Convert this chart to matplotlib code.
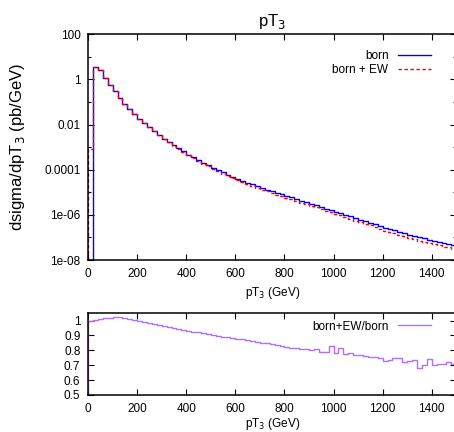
#!/usr/bin/env python3
import numpy as np
import matplotlib
matplotlib.use('Agg')
import matplotlib.pyplot as plt
from matplotlib.ticker import FixedLocator, FixedFormatter

plt.rcParams['font.family'] = ['Liberation Sans', 'DejaVu Sans']

# bin edges of the pT3 histogram (GeV)
bin_edges = np.arange(0, 1520, 20)

# born cross section per bin (pb/GeV), first bin empty
born = [0.0, 3.47, 2.51, 1.15, 0.537, 0.295, 0.148, 0.0832, 0.0501, 0.0288,
        0.0182, 0.0117, 7.76e-3, 5.13e-3, 3.47e-3, 2.40e-3, 1.70e-3, 1.23e-3, 8.91e-4, 6.61e-4,
        4.68e-4, 3.47e-4, 2.63e-4, 2.00e-4, 1.55e-4, 1.20e-4, 9.55e-5, 7.59e-5, 6.03e-5, 4.79e-5,
        3.89e-5, 3.24e-5, 2.69e-5, 2.24e-5, 1.86e-5, 1.55e-5, 1.32e-5, 1.12e-5, 9.55e-6, 8.13e-6,
        6.92e-6, 5.89e-6, 5.01e-6, 4.27e-6, 3.63e-6, 3.09e-6, 2.63e-6, 2.24e-6, 1.91e-6, 1.62e-6,
        1.38e-6, 1.17e-6, 1.00e-6, 8.51e-7, 7.24e-7, 6.17e-7, 5.25e-7, 4.47e-7, 3.80e-7, 3.24e-7,
        2.75e-7, 2.40e-7, 2.04e-7, 1.78e-7, 1.55e-7, 1.35e-7, 1.17e-7, 1.02e-7, 9.12e-8, 7.94e-8,
        7.08e-8, 6.31e-8, 5.62e-8, 5.01e-8, 4.47e-8]

# born + EW per bin (pb/GeV)
born_ew = [8.0e-4, 3.49, 2.54, 1.17, 0.548, 0.302, 0.152, 0.0849, 0.0507, 0.0289,
           0.0181, 0.0116, 7.63e-3, 5.01e-3, 3.36e-3, 2.31e-3, 1.63e-3, 1.17e-3, 8.41e-4, 6.20e-4,
           4.36e-4, 3.21e-4, 2.42e-4, 1.83e-4, 1.41e-4, 1.08e-4, 8.58e-5, 6.78e-5, 5.35e-5, 4.23e-5,
           3.42e-5, 2.83e-5, 2.33e-5, 1.93e-5, 1.60e-5, 1.32e-5, 1.12e-5, 9.43e-6, 7.96e-6, 6.72e-6,
           5.69e-6, 4.82e-6, 4.08e-6, 3.46e-6, 2.93e-6, 2.48e-6, 2.13e-6, 1.77e-6, 1.51e-6, 1.34e-6,
           1.08e-6, 9.51e-7, 7.73e-7, 6.68e-7, 5.57e-7, 4.74e-7, 4.00e-7, 3.39e-7, 2.87e-7, 2.41e-7,
           2.00e-7, 1.76e-7, 1.52e-7, 1.33e-7, 1.11e-7, 9.84e-8, 8.60e-8, 6.98e-8, 6.40e-8, 5.88e-8,
           4.96e-8, 4.45e-8, 3.96e-8, 3.60e-8, 3.17e-8]

# ratio born+EW/born per bin
ratio = [1.00, 1.005, 1.01, 1.015, 1.02, 1.025, 1.025, 1.02, 1.012, 1.005,
         0.997, 0.99, 0.983, 0.976, 0.969, 0.962, 0.956, 0.950, 0.944, 0.938,
         0.932, 0.926, 0.920, 0.914, 0.909, 0.904, 0.898, 0.893, 0.888, 0.883,
         0.878, 0.873, 0.868, 0.863, 0.858, 0.852, 0.847, 0.842, 0.834, 0.826,
         0.822, 0.818, 0.814, 0.810, 0.806, 0.802, 0.811, 0.789, 0.790, 0.829,
         0.785, 0.813, 0.773, 0.785, 0.770, 0.768, 0.762, 0.758, 0.755, 0.745,
         0.729, 0.735, 0.745, 0.749, 0.718, 0.729, 0.735, 0.684, 0.702, 0.740,
         0.700, 0.705, 0.705, 0.718, 0.710]

log_ticks = [1e2, 1, 1e-2, 1e-4, 1e-6, 1e-8]
log_tick_labels = ['100', '1', '0.01', '0.0001', '1e-06', '1e-08']
log_minor_ticks = [10, 0.1, 1e-3, 1e-5, 1e-7]
ratio_ticks = [0.5, 0.6, 0.7, 0.8, 0.9, 1.0]
ratio_tick_labels = ['0.5', '0.6', '0.7', '0.8', '0.9', '1']
x_ticks = [0, 200, 400, 600, 800, 1000, 1200, 1400]


def histeps(ax, edges, values, **kw):
    """
    Teken een histogram als trap, vanaf nul zoals gnuplot histeps.
    """
    x = np.r_[edges[0], edges]
    y = np.r_[0.0, values, values[-1]]
    return ax.step(x, y, where='post', **kw)


def style_axis(ax, xlabel_pad=3):
    ax.tick_params(direction='in', top=True, right=True, labelsize=8.5,
                   length=4, width=0.8)
    ax.tick_params(axis='x', pad=6)
    ax.tick_params(axis='y', pad=5.5)
    ax.tick_params(which='minor', direction='in', top=True, right=True, length=2.5, width=0.8)
    for spine in ax.spines.values():
        spine.set_linewidth(1.1)
    ax.set_xlim(0, 1500)
    ax.set_xticks(x_ticks)
    ax.set_xlabel('pT$_3$ (GeV)', fontsize=8.5, labelpad=xlabel_pad)


fig = plt.figure(figsize=(4.54, 4.32), dpi=100)
ax_top = fig.add_axes([0.194, 0.398, 0.811, 0.523])
ax_bot = fig.add_axes([0.194, 0.086, 0.811, 0.189])

histeps(ax_top, bin_edges, born, color='#0000ff', lw=1.0, label='born')
histeps(ax_top, bin_edges, born_ew, color='#ff0000', lw=1.0, ls=(0, (2.5, 1.8)), label='born + EW')
ax_top.set_yscale('log')
ax_top.set_ylim(1e-8, 100)
ax_top.yaxis.set_major_locator(FixedLocator(log_ticks))
ax_top.yaxis.set_major_formatter(FixedFormatter(log_tick_labels))
ax_top.yaxis.set_minor_locator(FixedLocator(log_minor_ticks))
ax_top.yaxis.set_minor_formatter(FixedFormatter([''] * len(log_minor_ticks)))
style_axis(ax_top)
ax_top.set_title('pT$_3$', fontsize=12, pad=6)
ax_top.set_ylabel('dsigma/dpT$_3$ (pb/GeV)', fontsize=12, labelpad=12)
ax_top.legend(loc='upper right', frameon=False, fontsize=8.5, markerfirst=False,
              handlelength=2.8, handletextpad=0.8, labelspacing=0.15,
              bbox_to_anchor=(0.96, 0.975))

histeps(ax_bot, bin_edges, ratio, color='#b070ff', lw=1.0, label='born+EW/born')
ax_bot.set_ylim(0.5, 1.05)
ax_bot.set_yticks(ratio_ticks)
ax_bot.set_yticklabels(ratio_tick_labels)
style_axis(ax_bot, xlabel_pad=0.5)
ax_bot.legend(loc='upper right', frameon=False, fontsize=8.5, markerfirst=False,
              handlelength=2.8, handletextpad=0.8,
              bbox_to_anchor=(0.96, 1.04))

fig.savefig('out.png', dpi=100)
plt.close(fig)
